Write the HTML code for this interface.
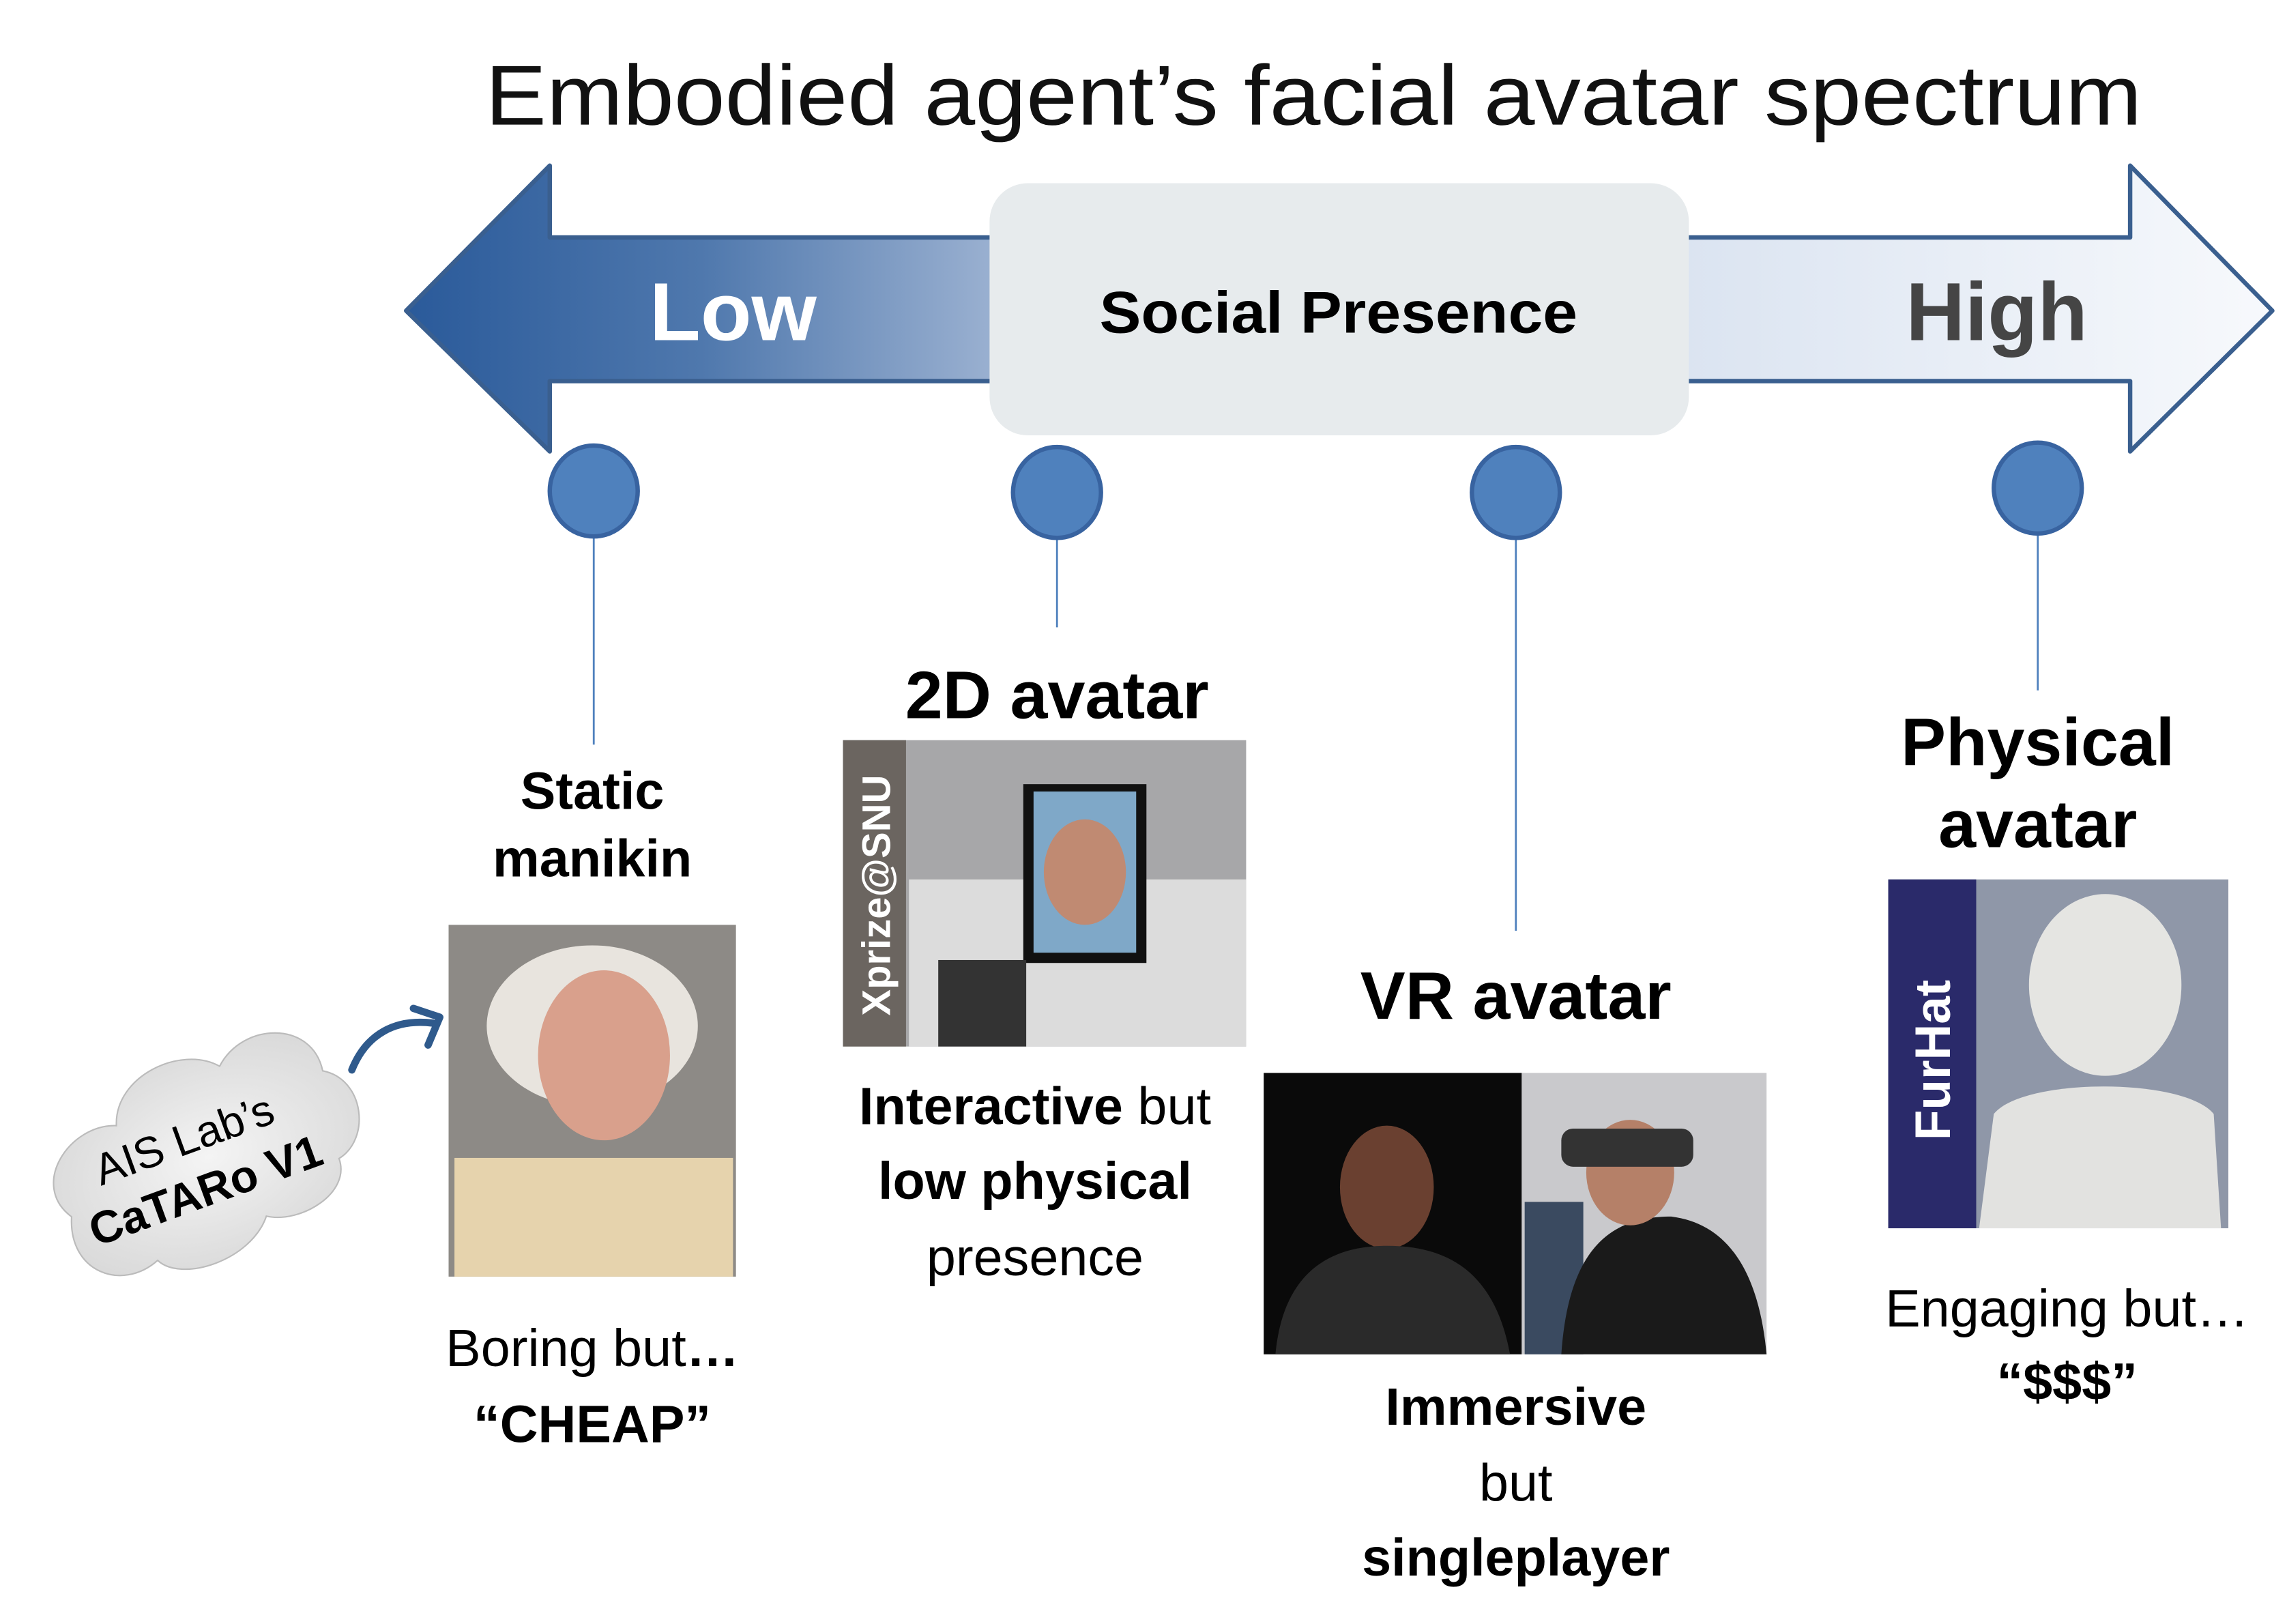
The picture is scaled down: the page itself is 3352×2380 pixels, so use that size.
<!DOCTYPE html>
<html><head><meta charset="utf-8"><style>
html,body{margin:0;padding:0;background:#fff;width:3352px;height:2380px;overflow:hidden}
svg{display:block}
text{font-family:"Liberation Sans",sans-serif}
</style></head><body>
<svg width="3352" height="2380" viewBox="0 0 1560 1108" preserveAspectRatio="none" xmlns="http://www.w3.org/2000/svg">
<defs>
<linearGradient id="gl" x1="277" y1="0" x2="680" y2="0" gradientUnits="userSpaceOnUse">
<stop offset="0" stop-color="#2a5a9a"/><stop offset="0.5" stop-color="#4f78ad"/><stop offset="1" stop-color="#9bb1d1"/></linearGradient>
<linearGradient id="gr" x1="1150" y1="0" x2="1550" y2="0" gradientUnits="userSpaceOnUse">
<stop offset="0" stop-color="#dbe4f1"/><stop offset="1" stop-color="#f7f9fc"/></linearGradient>
<radialGradient id="cloud" cx="0.5" cy="0.5" r="0.6"><stop offset="0" stop-color="#f4f4f4"/><stop offset="1" stop-color="#d8d8d8"/></radialGradient>
</defs>
<text x="896" y="85" font-size="58" text-anchor="middle" fill="#111" textLength="1130" lengthAdjust="spacingAndGlyphs">Embodied agent’s facial avatar spectrum</text>
<!-- left arrow -->
<path d="M277,212 L375,113 L375,162 L690,162 L690,260 L375,260 L375,308 Z" fill="url(#gl)" stroke="#3a5f8f" stroke-width="3" stroke-linejoin="round"/>
<!-- right arrow -->
<path d="M1140,162 L1453,162 L1453,113 L1550,212 L1453,308 L1453,260 L1140,260 Z" fill="url(#gr)" stroke="#3a5f8f" stroke-width="3" stroke-linejoin="round"/>
<rect x="675" y="125" width="477" height="172" rx="26" fill="#e7ebed"/>
<text x="500" y="232" font-size="56" font-weight="bold" fill="#fff" text-anchor="middle" textLength="114" lengthAdjust="spacingAndGlyphs">Low</text>
<text x="913" y="227" font-size="40" font-weight="bold" fill="#000" text-anchor="middle" textLength="326" lengthAdjust="spacingAndGlyphs">Social Presence</text>
<text x="1362" y="232" font-size="56" font-weight="bold" fill="#454545" text-anchor="middle" textLength="124" lengthAdjust="spacingAndGlyphs">High</text>
<!-- connectors -->
<g stroke="#4f81bd" stroke-width="1.3">
<line x1="405" y1="366" x2="405" y2="508"/><line x1="721" y1="367" x2="721" y2="428"/>
<line x1="1034" y1="367" x2="1034" y2="635"/><line x1="1390" y1="364" x2="1390" y2="471"/></g>
<g fill="#4f81bd" stroke="#3863a0" stroke-width="3">
<ellipse cx="405" cy="335" rx="30" ry="31"/><ellipse cx="721" cy="336" rx="30" ry="31"/>
<ellipse cx="1034" cy="336" rx="30" ry="31"/><ellipse cx="1390" cy="333" rx="30" ry="31"/></g>
<!-- col1 -->
<g font-weight="bold" font-size="36" text-anchor="middle">
<text x="404" y="552">Static</text><text x="404" y="598">manikin</text></g>
<rect x="306" y="631" width="196" height="240" fill="#8d8a86"/>
<ellipse cx="404" cy="700" rx="72" ry="55" fill="#e8e4de"/>
<ellipse cx="412" cy="720" rx="45" ry="58" fill="#d9a08c"/>
<rect x="310" y="790" width="190" height="81" fill="#e6d3ad"/>
<text x="404" y="932" font-size="36" text-anchor="middle">Boring but<tspan font-weight="bold">…</tspan></text>
<text x="404" y="984" font-size="36" font-weight="bold" text-anchor="middle">“CHEAP”</text>
<!-- cloud -->
<g transform="rotate(-20 130 790)">
<path d="M40,800 C20,770 60,740 90,752 C100,720 150,715 170,738 C195,715 240,730 235,765 C260,780 250,820 225,825 C225,850 185,858 165,845 C145,870 95,868 85,848 C55,860 25,835 40,800 Z" fill="url(#cloud)" stroke="#bbb" stroke-width="1"/>
<text x="130" y="787" font-size="30" text-anchor="middle">AIS Lab’s</text>
<text x="132" y="825" font-size="31" font-weight="bold" text-anchor="middle">CaTARo V1</text></g>
<path d="M240,730 C250,705 270,695 295,698" fill="none" stroke="#2f5a8c" stroke-width="5" stroke-linecap="round"/>
<path d="M282,688 L300,694 L292,713" fill="none" stroke="#2f5a8c" stroke-width="5" stroke-linecap="round" stroke-linejoin="round"/>
<!-- col2 -->
<text x="721" y="490" font-size="46" font-weight="bold" text-anchor="middle">2D avatar</text>
<rect x="575" y="505" width="275" height="209" fill="#a7a7a9"/>
<rect x="575" y="505" width="43" height="209" fill="#6b6560"/>
<text transform="translate(607 693) rotate(-90)" font-size="27" font-weight="bold" fill="#fff">Xprize@SNU</text>
<rect x="620" y="600" width="230" height="114" fill="#dcdcdc"/>
<rect x="698" y="535" width="84" height="122" fill="#111"/>
<rect x="705" y="540" width="70" height="110" fill="#7fa8c8"/>
<ellipse cx="740" cy="595" rx="28" ry="36" fill="#c08a72"/>
<rect x="640" y="655" width="60" height="59" fill="#333"/>
<text x="706" y="767" font-size="36" text-anchor="middle"><tspan font-weight="bold">Interactive</tspan> but</text>
<text x="706" y="818" font-size="36" font-weight="bold" text-anchor="middle">low physical</text>
<text x="706" y="870" font-size="36" text-anchor="middle">presence</text>
<!-- col3 -->
<text x="1034" y="695" font-size="46" font-weight="bold" text-anchor="middle">VR avatar</text>
<rect x="862" y="732" width="176" height="192" fill="#0a0a0a"/>
<ellipse cx="946" cy="810" rx="32" ry="42" fill="#6a4030"/>
<path d="M870,924 C875,870 905,850 946,850 C990,850 1020,870 1030,924 Z" fill="#2a2a2a"/>
<rect x="1038" y="732" width="167" height="192" fill="#c9c9cc"/>
<rect x="1040" y="820" width="40" height="104" fill="#3a4a60"/>
<path d="M1065,924 C1070,850 1100,830 1140,830 C1180,835 1200,870 1205,924 Z" fill="#1a1a1a"/>
<ellipse cx="1112" cy="800" rx="30" ry="36" fill="#b58068"/>
<rect x="1065" y="770" width="90" height="26" rx="8" fill="#333"/>
<text x="1034" y="972" font-size="36" font-weight="bold" text-anchor="middle">Immersive</text>
<text x="1034" y="1024" font-size="36" text-anchor="middle">but</text>
<text x="1034" y="1075" font-size="36" font-weight="bold" text-anchor="middle">singleplayer</text>
<!-- col4 -->
<text x="1390" y="522" font-size="46" font-weight="bold" text-anchor="middle">Physical</text>
<text x="1390" y="578" font-size="46" font-weight="bold" text-anchor="middle">avatar</text>
<rect x="1288" y="600" width="232" height="238" fill="#8f97a8"/>
<rect x="1288" y="600" width="60" height="238" fill="#2a2a6a"/>
<text transform="translate(1330 778) rotate(-90)" font-size="34" font-weight="bold" fill="#fff">FurHat</text>
<ellipse cx="1436" cy="672" rx="52" ry="62" fill="#e5e5e2"/>
<path d="M1350,838 L1360,760 C1380,735 1490,735 1510,760 L1515,838 Z" fill="#e2e2e0"/>
<text x="1410" y="905" font-size="36" text-anchor="middle">Engaging but…</text>
<text x="1410" y="955" font-size="36" font-weight="bold" text-anchor="middle">“$$$”</text>
</svg>
</body></html>
